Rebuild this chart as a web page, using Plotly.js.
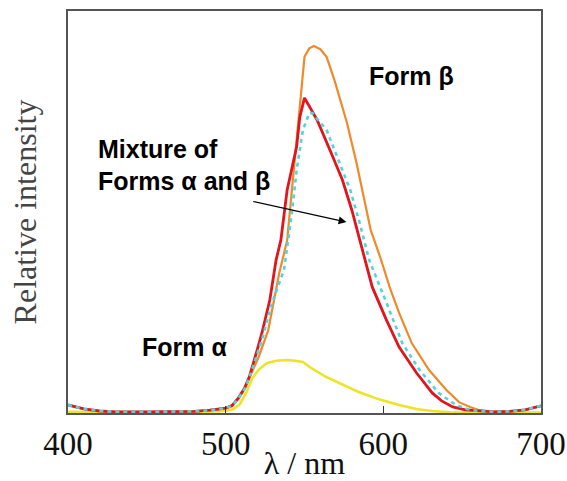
<!DOCTYPE html>
<html>
<head>
<meta charset="utf-8">
<script src="https://cdn.plot.ly/plotly-3.0.1.min.js"></script>
<style>html,body{margin:0;padding:0;background:#fff;}#chart{width:567px;height:481px;}</style>
</head>
<body>
<div id="chart"></div>
<script>
// Wavelengths (nm) and relative intensities
const formAlphaX = [400, 420, 450, 480, 500, 505, 509, 513, 517, 521, 526, 532, 539, 544, 549, 553, 558, 563, 568, 573, 579, 584, 589, 595, 601, 610, 621, 631, 642, 652, 680, 700];
const formAlphaY = [0.3, 0.2, 0.2, 0.2, 0.5, 1.0, 2.2, 5.0, 8.7, 10.8, 12.4, 13.0, 13.2, 13.0, 12.7, 11.5, 10.2, 9.1, 8.2, 7.2, 6.2, 5.3, 4.5, 3.7, 3.0, 2.0, 1.0, 0.5, 0.2, 0.1, 0.1, 0.1];

const formBetaX = [400, 410, 420, 430, 450, 480, 490, 500, 504, 508, 512, 515, 521, 527, 534, 539, 542, 546, 548, 550, 553, 556, 560, 564, 569, 577, 583, 588, 592, 598, 604, 610, 618, 629, 640, 648, 655, 661, 670, 680, 690, 700];
const formBetaY = [2.0, 1.0, 0.5, 0.3, 0.3, 0.4, 0.7, 1.2, 2.0, 3.5, 6.0, 8.7, 14.0, 20.6, 34.8, 43.0, 55.5, 72.9, 82.1, 88.6, 90.7, 91.3, 90.5, 88.6, 82.8, 72.1, 62.2, 53.0, 45.5, 38.8, 31.3, 24.9, 17.4, 10.7, 5.7, 2.7, 1.5, 0.7, 0.3, 0.4, 0.8, 1.8];

const mixtureX = [400, 410, 420, 430, 450, 480, 490, 500, 504, 508, 512, 515, 520, 523, 528, 532, 535, 539, 545, 547, 550, 558, 568, 574, 580, 587, 593, 602, 610, 621, 631, 637, 644, 652, 660, 670, 680, 690, 700];
const mixtureY = [2.0, 1.0, 0.5, 0.3, 0.3, 0.4, 0.7, 1.2, 1.8, 3.7, 6.2, 9.0, 15.7, 19.9, 28.1, 38.1, 43.0, 55.5, 66.2, 73.6, 78.4, 72.9, 63.7, 58.0, 50.5, 39.8, 31.3, 23.1, 16.4, 10.0, 5.0, 3.0, 1.5, 0.8, 0.5, 0.3, 0.4, 0.8, 1.8];

const mixtureFitX = [400, 410, 420, 430, 450, 480, 490, 500, 504, 508, 512, 515, 523, 529, 537, 542, 545, 549, 553, 555, 564, 572, 579, 585, 591, 602, 612, 623, 635, 646, 653, 660, 670, 680, 690, 700];
const mixtureFitY = [2.0, 1.0, 0.5, 0.3, 0.3, 0.4, 0.7, 1.2, 1.8, 3.5, 6.0, 8.7, 18.2, 26.9, 35.6, 49.8, 60.4, 70.4, 74.6, 74.6, 70.4, 62.2, 55.5, 47.3, 38.1, 27.4, 17.4, 10.7, 5.0, 2.0, 1.0, 0.5, 0.3, 0.4, 0.8, 1.8];

const xTickVals = [400, 500, 600, 700];
const xTickText = ['400', '500', '600', '700'];

const traces = [
  {x: formAlphaX, y: formAlphaY, mode: 'lines', line: {color: '#eee324', width: 2.6}, hoverinfo: 'skip'},
  {x: formBetaX, y: formBetaY, mode: 'lines', line: {color: '#ef8a2c', width: 2.2}, hoverinfo: 'skip'},
  {x: mixtureX, y: mixtureY, mode: 'lines', line: {color: '#e3141c', width: 2.8}, hoverinfo: 'skip'},
  {x: mixtureFitX, y: mixtureFitY, mode: 'lines', line: {color: '#52d4dc', width: 2.6, dash: '4px,4px'}, hoverinfo: 'skip'}
];

const annFont = {family: '"Liberation Sans", Arial, sans-serif', size: 25, color: '#000'};

const layout = {
  width: 567, height: 481,
  margin: {l: 68, r: 26, t: 11, b: 68, pad: 0},
  paper_bgcolor: '#fff', plot_bgcolor: '#fff',
  showlegend: false,
  xaxis: {
    range: [400, 700], showgrid: false, zeroline: false,
    showline: true, linecolor: '#555', linewidth: 2, mirror: true,
    ticks: 'inside', ticklen: 7, tickwidth: 1.5, tickcolor: '#333',
    tickvals: xTickVals, ticktext: xTickText,
    tickfont: {family: '"Liberation Serif", "Times New Roman", serif', size: 33, color: '#111'},
    title: {text: 'λ / nm', standoff: 12, font: {family: '"Liberation Serif", "Times New Roman", serif', size: 32, color: '#111'}}
  },
  yaxis: {
    range: [0, 100], showgrid: false, zeroline: false,
    showline: true, linecolor: '#555', linewidth: 2, mirror: true,
    ticks: '', showticklabels: false,
    title: {text: 'Relative intensity', standoff: 20, font: {family: '"Liberation Serif", "Times New Roman", serif', size: 32, color: '#444'}}
  },
  annotations: [
    {x: 589.9, y: 83.8, xref: 'x', yref: 'y', text: '<b>Form β</b>', showarrow: false, xanchor: 'left', yanchor: 'middle', font: annFont},
    {x: 417.7, y: 65.6, xref: 'x', yref: 'y', text: '<b>Mixture of</b>', showarrow: false, xanchor: 'left', yanchor: 'middle', font: annFont},
    {x: 417.7, y: 57.8, xref: 'x', yref: 'y', text: '<b>Forms α and β</b>', showarrow: false, xanchor: 'left', yanchor: 'middle', font: annFont},
    {x: 445.6, y: 16.4, xref: 'x', yref: 'y', text: '<b>Form α</b>', showarrow: false, xanchor: 'left', yanchor: 'middle', font: annFont},
    {x: 576.6, y: 47.5, ax: 516.5, ay: 52.7, xref: 'x', yref: 'y', axref: 'x', ayref: 'y', text: '', showarrow: true, arrowhead: 2, arrowsize: 1.3, arrowwidth: 1.2, arrowcolor: '#000'}
  ]
};

Plotly.newPlot('chart', traces, layout, {staticPlot: true, displayModeBar: false});
</script>
</body>
</html>
